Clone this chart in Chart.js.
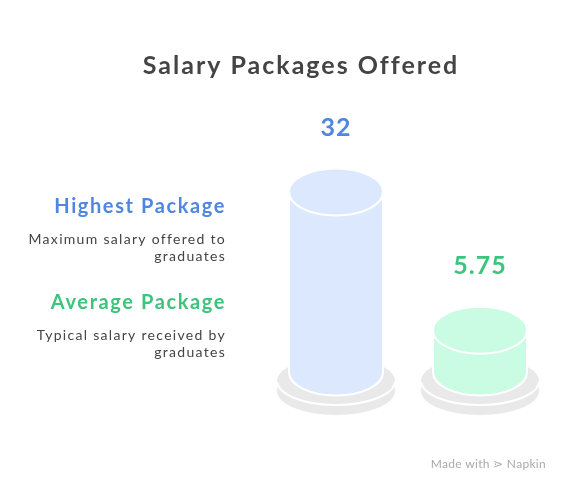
<!DOCTYPE html>
<html>
<head>
<meta charset="utf-8">
<script src="https://cdn.jsdelivr.net/npm/chart.js@4"></script>
<style>
  html, body { margin: 0; padding: 0; background: #fff; }
  #wrap { position: relative; width: 570px; height: 492px; }
</style>
</head>
<body>
<div id="wrap"><canvas id="chart" width="570" height="492"></canvas></div>
<script>
// data
const categories = ['Highest Package', 'Average Package'];
const packageValues = [32, 5.75];
const valueLabels = ['32', '5.75'];
const descriptions = [
  ['Maximum salary offered to', 'graduates'],
  ['Typical salary received by', 'graduates']
];
const chartTitle = 'Salary Packages Offered';

const bodyColors = ['#dce8fd', '#c9fce2'];
const textColors = ['#4f86e2', '#3cc47c'];
const fontName = 'Lato, "Open Sans", sans-serif';

// draws cylinders on top of the (invisible) bars
const cylinderPlugin = {
  id: 'cylinders',
  afterDatasetsDraw(chart) {
    const ctx = chart.ctx;
    const meta = chart.getDatasetMeta(0);
    meta.data.forEach((bar, i) => {
      const x = bar.x;
      const top = bar.y;
      const bottom = bar.base;
      const rx = bar.width / 2;
      const ry = 23.5;

      // plate
      const prx = rx + 12;
      ctx.save();
      ctx.fillStyle = '#e9e9e9';
      ctx.strokeStyle = '#ffffff';
      ctx.lineWidth = 2;
      ctx.beginPath();
      ctx.ellipse(x, bottom + 19, prx, 24, 0, 0, Math.PI * 2);
      ctx.fill();
      ctx.beginPath();
      ctx.ellipse(x, bottom + 9, prx, 24, 0, 0, Math.PI * 2);
      ctx.fill();
      ctx.beginPath();
      ctx.ellipse(x, bottom + 9, prx, 24, 0, 0.05, Math.PI - 0.05);
      ctx.stroke();

      // body
      ctx.fillStyle = bodyColors[i];
      ctx.beginPath();
      ctx.moveTo(x - rx, top);
      ctx.lineTo(x - rx, bottom);
      ctx.ellipse(x, bottom, rx, ry, 0, Math.PI, 0, true);
      ctx.lineTo(x + rx, top);
      ctx.closePath();
      ctx.fill();
      ctx.stroke();

      // top cap
      ctx.beginPath();
      ctx.ellipse(x, top, rx, ry, 0, 0, Math.PI * 2);
      ctx.fill();
      ctx.stroke();

      // value
      ctx.fillStyle = textColors[i];
      ctx.font = 'bold 25px ' + fontName;
      ctx.letterSpacing = '1px';
      ctx.textAlign = 'center';
      ctx.textBaseline = 'middle';
      ctx.fillText(valueLabels[i], x, top - 64);
      ctx.restore();
    });
  }
};

// title, left legend, watermark
const textPlugin = {
  id: 'texts',
  afterDraw(chart) {
    const ctx = chart.ctx;
    ctx.save();
    ctx.textBaseline = 'middle';
    ctx.fillStyle = '#444444';
    ctx.font = 'bold 25px ' + fontName;
    ctx.letterSpacing = '2px';
    ctx.textAlign = 'center';
    ctx.fillText(chartTitle, 301, 66);

    ctx.textAlign = 'right';
    categories.forEach((cat, i) => {
      const y0 = 207 + i * 96;
      ctx.fillStyle = textColors[i];
      ctx.font = 'bold 20px ' + fontName;
      ctx.letterSpacing = '1.6px';
      ctx.fillText(cat, 226, y0);
      ctx.fillStyle = '#444444';
      ctx.font = '14px ' + fontName;
      ctx.letterSpacing = '1.3px';
      descriptions[i].forEach((line, j) => {
        ctx.fillText(line, 226, y0 + 32 + j * 17);
      });
    });

    ctx.fillStyle = '#aaaaaa';
    ctx.font = '12px ' + fontName;
    ctx.letterSpacing = '0.3px';
    ctx.textAlign = 'right';
    ctx.fillText('Made with ⋗ Napkin', 546, 464);
    ctx.restore();
  }
};

new Chart(document.getElementById('chart').getContext('2d'), {
  type: 'bar',
  data: {
    labels: categories,
    datasets: [{
      data: packageValues,
      backgroundColor: 'rgba(0,0,0,0)',
      borderWidth: 0,
      base: -2.2,
      categoryPercentage: 1,
      barPercentage: 94 / 144
    }]
  },
  options: {
    responsive: false,
    animation: false,
    layout: { padding: { left: 264, right: 18, top: 192, bottom: 120 } },
    plugins: {
      legend: { display: false },
      title: { display: false },
      tooltip: { enabled: false }
    },
    scales: {
      x: { display: false },
      y: { display: false, min: -2.2, max: 32 }
    }
  },
  plugins: [cylinderPlugin, textPlugin]
});
</script>
</body>
</html>
